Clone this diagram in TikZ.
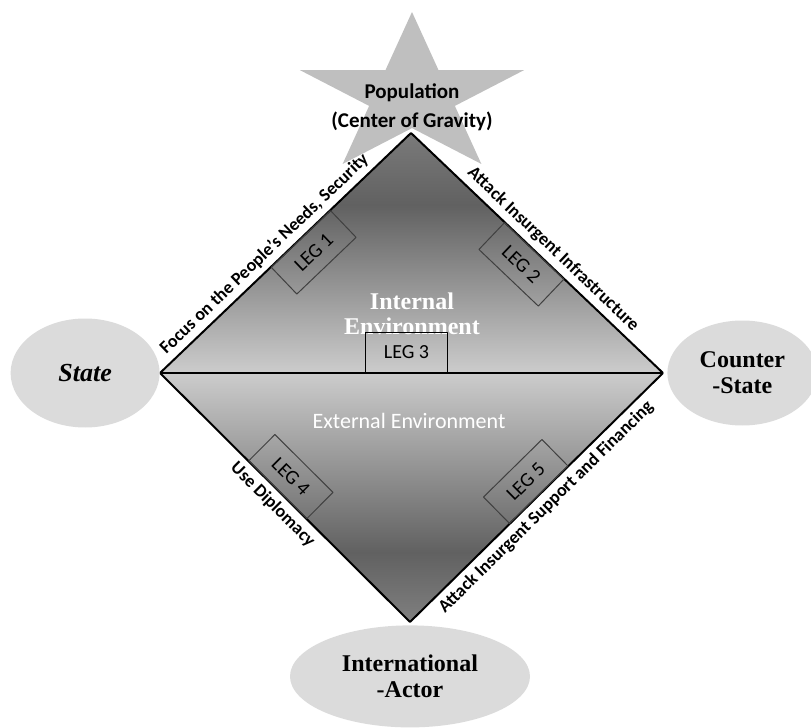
\documentclass[tikz,border=0pt]{standalone}
\usepackage{fontspec}
\setmainfont{Carlito}
\newfontfamily\serifont{Liberation Serif}
\usetikzlibrary{positioning}
\usetikzlibrary{shapes.geometric}

\definecolor{stargray}{gray}{0.75}
\definecolor{actorgray}{gray}{0.86}
\pgfdeclareverticalshading{upperenv}{100bp}{color(0bp)=(black!20); color(25bp)=(black!20); color(60bp)=(black!62); color(75bp)=(black!52); color(100bp)=(black!52)}
\pgfdeclareverticalshading{lowerenv}{100bp}{color(0bp)=(black!50); color(25bp)=(black!50); color(39bp)=(black!62); color(75bp)=(black!20); color(100bp)=(black!20)}

\begin{document}
\begin{tikzpicture}[x=0.5pt, y=-0.5pt, node distance=1pt,
    actor/.style={ellipse, fill=actorgray, inner sep=0pt, align=center,
        font=\serifont\bfseries\fontsize{12}{13}\selectfont},
    leg/.style={draw=black!75, line width=0.5pt, sloped, inner sep=0pt,
        minimum width=41pt, minimum height=18.5pt, font=\fontsize{10}{12}\selectfont},
    side/.style={sloped, inner sep=1pt, font=\bfseries\fontsize{9}{10}\selectfont},
    rim/.style={line width=1pt, line join=round}]
\useasboundingbox (0,0) rectangle (811,728);

% star behind the diamond
\fill[stargray] (412,12) \foreach \a/\r in {126/0.382,162/1,198/0.382,234/1,270/0.382,306/1,342/0.382,18/1,54/0.382}
    {-- ({412+118*\r*cos(\a)},{96-84*\r*sin(\a)})} -- cycle;
\node[align=center, font=\bfseries\fontsize{10.5}{14.5}\selectfont] (pop) at (412,107) {Population\\(Center of Gravity)};

\coordinate (T) at (411,133);
\coordinate (L) at (160,373);
\coordinate (R) at (663,373);
\coordinate (B) at (410,622);

\fill[shading=upperenv] (L) -- (T) -- (R) -- cycle;
\fill[shading=lowerenv] (L) -- (R) -- (B) -- cycle;

\node[text=white, align=center, font=\serifont\bfseries\fontsize{12}{12.5}\selectfont] (inner) at (412,314) {Internal\\Environment};
\node[text=white, font=\fontsize{11}{13}\selectfont] (outer) at (409,421) {External Environment};

% the legs
\draw[rim] (L) -- (T) node[side, above=1.5pt, pos=0.454] (needs) {Focus on the People's Needs, Security}
    node[leg, below, pos=0.56] (leg1) {LEG 1};
\draw[rim] (T) -- (R) node[side, above=1.5pt, pos=0.526] (infra) {Attack Insurgent Infrastructure}
    node[leg, below, pos=0.49] (leg2) {LEG 2};
\draw[rim] (L) -- (B) node[side, below=1.5pt, pos=0.49] (dipl) {Use Diplomacy}
    node[leg, above, pos=0.47] (leg4) {LEG 4};
\draw[rim] (B) -- (R) node[side, below=1.5pt, pos=0.5] (fin) {Attack Insurgent Support and Financing}
    node[leg, above, pos=0.51] (leg5) {LEG 5};
\draw[rim] (L) -- (R) node[leg, draw=black, above, pos=0.49, minimum height=20pt] (leg3) {LEG 3};

\node[actor, minimum width=74.5pt, minimum height=54.5pt, left=0pt of L, font=\serifont\bfseries\itshape\fontsize{13}{14}\selectfont] (state) {State};
\node[actor, minimum width=75pt, minimum height=52.5pt, right=2pt of R] (counter) {Counter\\-State};
\node[actor, minimum width=120pt, minimum height=51pt, below=1.5pt of B] (intl) {International\\-Actor};
\end{tikzpicture}
\end{document}
